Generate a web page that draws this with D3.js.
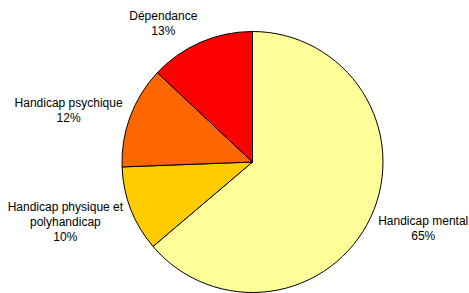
<!DOCTYPE html>
<html>
<head>
<meta charset="utf-8">
<script src="https://cdn.jsdelivr.net/npm/d3@7"></script>
<style>
  body { margin: 0; background: #fff; }
  svg { display: block; }
  .label { font-family: "Liberation Sans", Arial, sans-serif; font-size: 12px; fill: #000; }
</style>
</head>
<body>
<div id="chart"></div>
<script>
// slices, clockwise from 12 o'clock
const categories = ['Handicap mental', 'Handicap physique et\npolyhandicap', 'Handicap psychique', 'Dépendance']
const shares = [63.8, 10.6, 12.6, 13.0]
const pctLabels = ['65%', '10%', '12%', '13%']
const colors = ['#ffff99', '#ffcc00', '#ff6600', '#ff0000']

const width = 469
const height = 293
const cx = 252.5
const cy = 162
const radius = 130.5
const lineh = 15

const svg = d3.select('#chart').append('svg')
  .attr('width', width)
  .attr('height', height)

const g = svg.append('g')
  .attr('transform', 'translate(' + cx + ',' + cy + ')')

const pie = d3.pie().sort(null).value(d => d)
const arc = d3.arc().innerRadius(0).outerRadius(radius)

const arcs = pie(shares)

g.selectAll('path.slice')
  .data(arcs)
  .enter().append('path')
  .attr('class', 'slice')
  .attr('d', arc)
  .attr('fill', (d, i) => colors[i])
  .attr('stroke', '#000')
  .attr('stroke-width', 1)
  .attr('stroke-linejoin', 'round')

// labels sit outside the pie, pushed away along the slice mid-angle
const labels = g.selectAll('text.label')
  .data(arcs)
  .enter().append('text')
  .attr('class', 'label')
  .attr('text-anchor', 'middle')

labels.each(function(d, i) {
  const lines = categories[i].split('\n').concat([pctLabels[i]])
  const t = d3.select(this)
  lines.forEach((s, k) => {
    t.append('tspan').attr('x', 0).attr('dy', k ? lineh : 0).text(s)
  })
})

labels.attr('transform', function(d) {
  const box = this.getBBox()
  const a = (d.startAngle + d.endAngle) / 2
  const s = Math.sin(a), c = Math.cos(a)
  const r = radius + 8
  const ax = r * s, ay = -r * c
  const mx = ax + Math.sign(s) * box.width / 2
  const my = ay - c * box.height / 2 + 2
  // shift so the text block's centre lands on (mx, my)
  const dy = my - (box.y + box.height / 2)
  return 'translate(' + mx + ',' + dy + ')'
})
</script>
</body>
</html>
